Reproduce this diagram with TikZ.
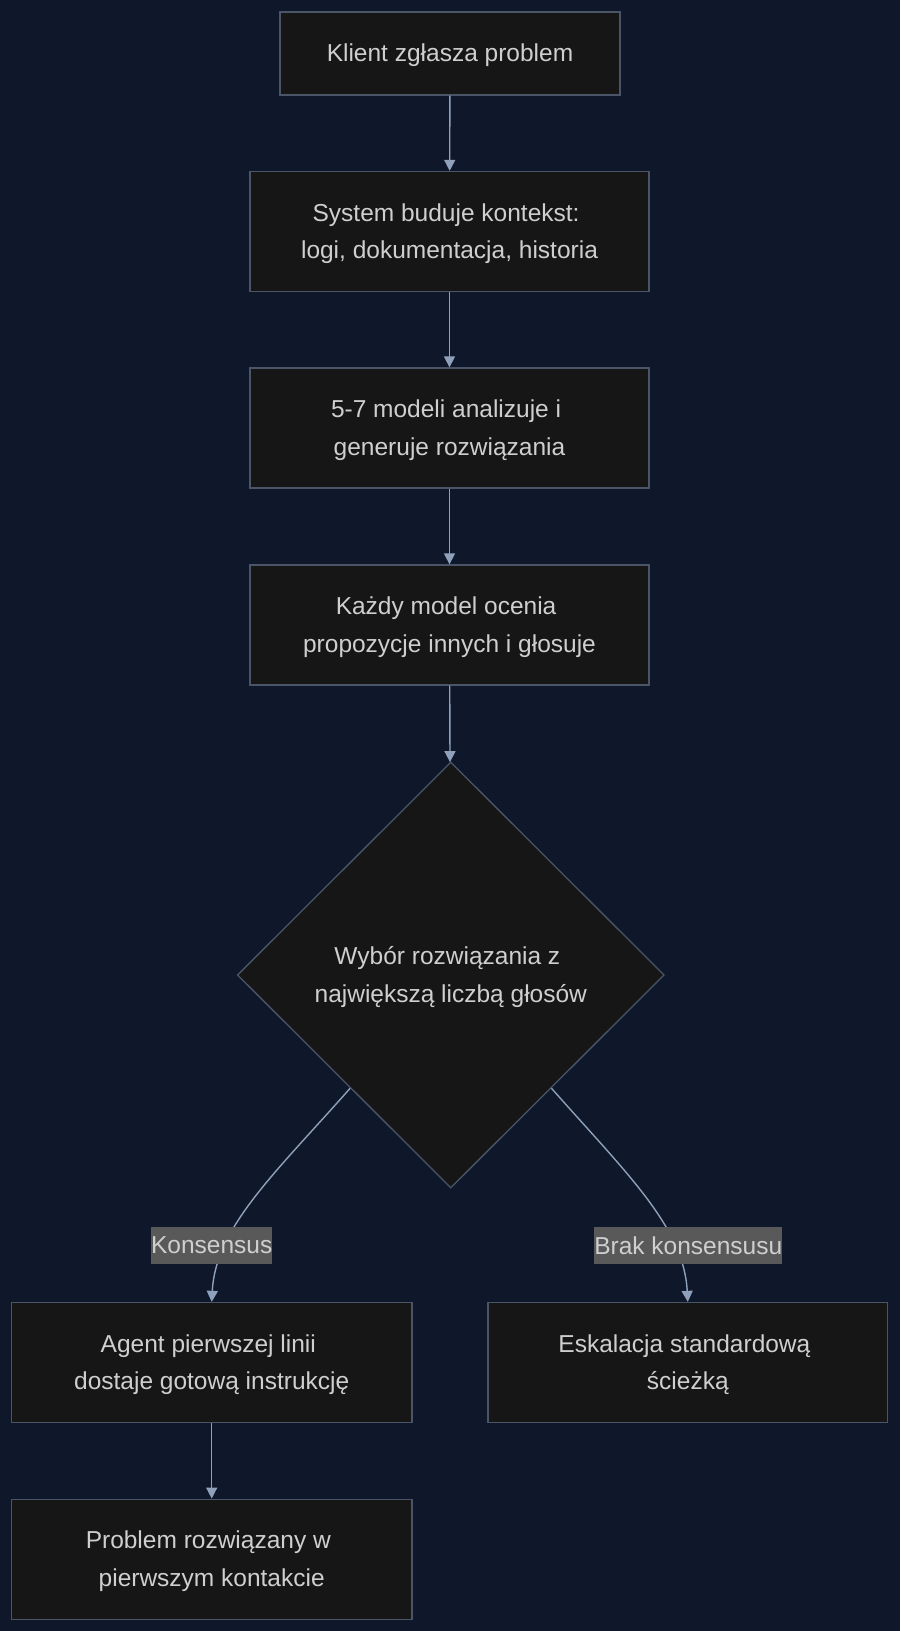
\documentclass[tikz,border=0pt]{standalone}
\usepackage{fontspec}
\setmainfont{Liberation Sans}
\usetikzlibrary{shapes.geometric,arrows.meta,calc}
\definecolor{bgc}{HTML}{0F172A}
\definecolor{boxfill}{HTML}{161616}
\definecolor{boxline}{HTML}{4A5568}
\definecolor{arrowc}{HTML}{8FA0BB}
\definecolor{txtc}{HTML}{CFCFCF}
\definecolor{lblfill}{HTML}{595959}
\newcommand{\tsp}{\kern 0.278em}
\tikzset{
  stepbox/.style={draw=boxline, line width=1.3pt, fill=boxfill, text=txtc, inner sep=0pt,
    align=center, font=\fontsize{24.5}{37.5}\selectfont, minimum height=120pt, text depth=1pt},
  decbox/.style={diamond, draw=boxline, line width=1.3pt, fill=boxfill, text=txtc, inner sep=0pt,
    align=center, font=\fontsize{24.5}{37.5}\selectfont, minimum width=427pt, minimum height=426pt, text depth=1pt},
  edgelbl/.style={fill=lblfill, text=txtc, inner xsep=0pt, inner ysep=0pt, minimum height=36.7pt,
    font=\fontsize{24.5}{30}\selectfont},
  flow/.style={draw=arrowc, line width=1.4pt, -{Triangle[length=11pt,width=11pt]}}
}
\begin{document}
\begin{tikzpicture}[x=1pt,y=-1pt]
\useasboundingbox (0,0) rectangle (900,1631);
\fill[bgc] (0,0) rectangle (900,1631);
\node[stepbox, minimum width=340pt, minimum height=83pt] (a) at (450,53.5) {Klient zgłasza problem};
\node[stepbox, minimum width=399pt] (b) at (449.5,231.5) {System buduje kontekst:\tsp\\logi, dokumentacja, historia};
\node[stepbox, minimum width=399pt] (c) at (449.5,428) {5-7 modeli analizuje i\tsp\\generuje rozwiązania};
\node[stepbox, minimum width=399pt] (e) at (449.5,625) {Każdy model ocenia\tsp\\propozycje innych i głosuje};
\node[decbox] (d) at (450.8,975) {Wybór rozwiązania z\tsp\\największą liczbą głosów};
\node[stepbox, minimum width=400.6pt] (f) at (211.7,1362.5) {Agent pierwszej linii\tsp\\dostaje gotową instrukcję};
\node[stepbox, minimum width=399.6pt] (g) at (687.8,1362.5) {Eskalacja standardową\tsp\\ścieżką};
\node[stepbox, minimum width=400.6pt] (h) at (211.7,1559.2) {Problem rozwiązany w\tsp\\pierwszym kontakcie};
\draw[flow] (a) -- (b);
\draw[flow] (b) -- (c);
\draw[flow] (c) -- (e);
\draw[flow] (e) -- (d);
\draw[flow] (f) -- (h);
\coordinate (dl) at ($(d.west)!0.53!(d.south)$);
\coordinate (dr) at ($(d.east)!0.53!(d.south)$);
\draw[flow] (dl) .. controls +(-75,85) and +(4,-75) .. (f.north);
\draw[flow] (dr) .. controls +(75,85) and +(-4,-75) .. (g.north);
\node[edgelbl] (l1) at (211.7,1245.3) {Konsensus};
\node[edgelbl] (l2) at (688.3,1245.3) {Brak konsensusu};
\end{tikzpicture}
\end{document}
